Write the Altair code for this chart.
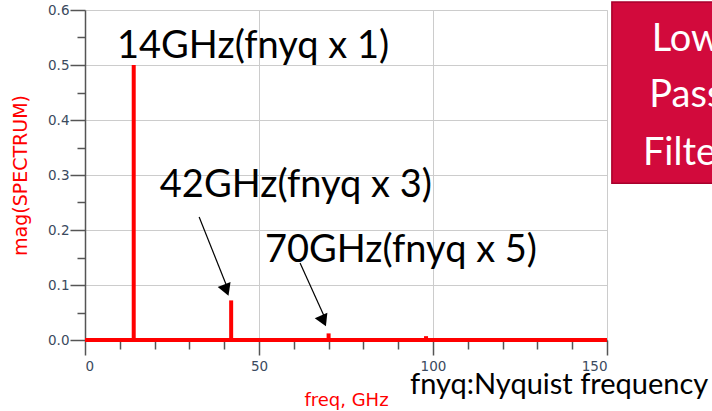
import altair as alt
import pandas as pd

# ---- data ----
freqs = [14, 42, 70, 98]
mags = [0.5, 0.072, 0.012, 0.007]
x_domain = [0, 150]
y_domain = [0, 0.6]
x_major = [0, 50, 100, 150]
x_minor = [10, 20, 30, 40, 60, 70, 80, 90, 110, 120, 130, 140]
y_major = [0.0, 0.1, 0.2, 0.3, 0.4, 0.5, 0.6]
y_minor = [0.05, 0.15, 0.25, 0.35, 0.45, 0.55]

ann_text = ["14GHz(fnyq x 1)", "42GHz(fnyq x 3)", "70GHz(fnyq x 5)"]
ann_x = [9.2, 21.5, 51.7]
ann_y = [0.513, 0.26, 0.142]

arrow_x0 = [32.8, 61.8]
arrow_y0 = [0.2236, 0.140]
arrow_x1 = [40.6, 68.6]
arrow_y1 = [0.100, 0.045]
head_x = [40.4, 68.3]
head_y = [0.094, 0.038]
head_angle = [158.6, 156.0]

note_text = ["fnyq:Nyquist frequency"]
note_x = [93.4]
note_y = [-0.098]

box_x = [151.4]
box_x2 = [190]
box_y = [0.6145]
box_y2 = [0.285]
box_lines = ["Low", "Pass", "Filter"]
box_line_x = [172.8, 172.8, 172.8]
box_line_y = [0.5256, 0.4238, 0.3184]

RED = "#ff0000"
LABEL = "#3b4a5e"
AX = "#555555"
AXFONT = "DejaVu Sans"

spikes = pd.DataFrame({"freq": freqs, "mag": mags, "zero": [0] * len(freqs)})
base = pd.DataFrame({"x0": [x_domain[0]], "x1": [x_domain[1]], "y": [0]})
ann = pd.DataFrame({"t": ann_text, "x": ann_x, "y": ann_y})
arrows = pd.DataFrame({"x0": arrow_x0, "y0": arrow_y0, "x1": arrow_x1, "y1": arrow_y1})
heads = pd.DataFrame({"x": head_x, "y": head_y, "a": head_angle})
note = pd.DataFrame({"t": note_text, "x": note_x, "y": note_y})
box = pd.DataFrame({"x": box_x, "x2": box_x2, "y": box_y, "y2": box_y2})
boxt = pd.DataFrame({"t": box_lines, "x": box_line_x, "y": box_line_y})

xs = alt.Scale(domain=x_domain, nice=False, zero=False)
ys = alt.Scale(domain=y_domain, nice=False, zero=False)

major_x_axis = alt.Axis(values=x_major, title="freq, GHz", titleColor=RED, titleFont=AXFONT,
                        titleFontSize=18, titleFontWeight="normal", titlePadding=19,
                        labelFont=AXFONT, labelFontSize=13.5, labelColor=LABEL, labelPadding=4,
                        tickSize=15, tickColor=AX, tickWidth=1.5, domainColor=AX, domainWidth=1.5,
                        grid=True, gridColor="#cccccc", gridWidth=1, orient="bottom")
major_y_axis = alt.Axis(values=y_major, format=".1f", title="mag(SPECTRUM)", titleColor=RED,
                        titleFont=AXFONT, titleFontSize=19, titleFontWeight="normal",
                        titlePadding=17,
                        labelFont=AXFONT, labelFontSize=13.5, labelColor=LABEL, labelPadding=1,
                        tickSize=15, tickColor=AX, tickWidth=1.5, domainColor=AX, domainWidth=1.5,
                        grid=True, gridColor="#cccccc", gridWidth=1, orient="left")
minor_x_axis = alt.Axis(values=x_minor, labels=False, title=None, tickSize=9, tickColor=AX, tickWidth=1.5,
                        domain=False, grid=False, orient="bottom")
minor_y_axis = alt.Axis(values=y_minor, labels=False, title=None, tickSize=8, tickColor=AX, tickWidth=1.5,
                        domain=False, grid=False, orient="left")

spike_layer = alt.Chart(spikes).mark_rule(color=RED, strokeWidth=4).encode(
    x=alt.X("freq:Q", scale=xs, axis=major_x_axis),
    y=alt.Y("zero:Q", scale=ys, axis=major_y_axis),
    y2="mag:Q",
)

base_layer = alt.Chart(base).mark_rule(color=RED, strokeWidth=4).encode(
    x=alt.X("x0:Q", scale=xs, axis=minor_x_axis),
    x2="x1:Q",
    y=alt.Y("y:Q", scale=ys, axis=minor_y_axis),
)

ann_layer = alt.Chart(ann).mark_text(font="Lato", fontSize=38, color="black", align="left",
                                     baseline="alphabetic").encode(
    x=alt.X("x:Q", scale=xs, axis=None), y=alt.Y("y:Q", scale=ys, axis=None), text="t:N")

arrow_layer = alt.Chart(arrows).mark_rule(color="black", strokeWidth=1.2).encode(
    x=alt.X("x0:Q", scale=xs, axis=None), y=alt.Y("y0:Q", scale=ys, axis=None), x2="x1:Q", y2="y1:Q")

head_layer = alt.Chart(heads).mark_point(shape="triangle", filled=True, color="black", size=190,
                                         opacity=1).encode(
    x=alt.X("x:Q", scale=xs, axis=None), y=alt.Y("y:Q", scale=ys, axis=None), angle=alt.Angle("a:Q", scale=None))

note_layer = alt.Chart(note).mark_text(font="Lato", fontSize=29, color="black", align="left",
                                       baseline="alphabetic", clip=False).encode(
    x=alt.X("x:Q", scale=xs, axis=None), y=alt.Y("y:Q", scale=ys, axis=None), text="t:N")

box_layer = alt.Chart(box).mark_rect(color="#d20a3c", stroke="#a8002c", strokeWidth=1.5, clip=False).encode(
    x=alt.X("x:Q", scale=xs, axis=None), x2="x2:Q", y=alt.Y("y:Q", scale=ys, axis=None), y2="y2:Q")

boxt_layer = alt.Chart(boxt).mark_text(font="Lato", fontSize=38, color="white", align="center",
                                       baseline="alphabetic").encode(
    x=alt.X("x:Q", scale=xs, axis=None), y=alt.Y("y:Q", scale=ys, axis=None), text="t:N")

chart = alt.layer(
    spike_layer, base_layer, arrow_layer, head_layer, ann_layer, note_layer, box_layer, boxt_layer
).resolve_axis(x="independent", y="independent").properties(
    width=522, height=330,
    padding={"left": 85, "top": 10, "right": 105, "bottom": 71},
    autosize=alt.AutoSizeParams(type="none"),
).configure_view(stroke="#666666", strokeWidth=1.5).configure(background="white")

chart.save("out.html", embed_options={"renderer": "svg", "actions": False})
